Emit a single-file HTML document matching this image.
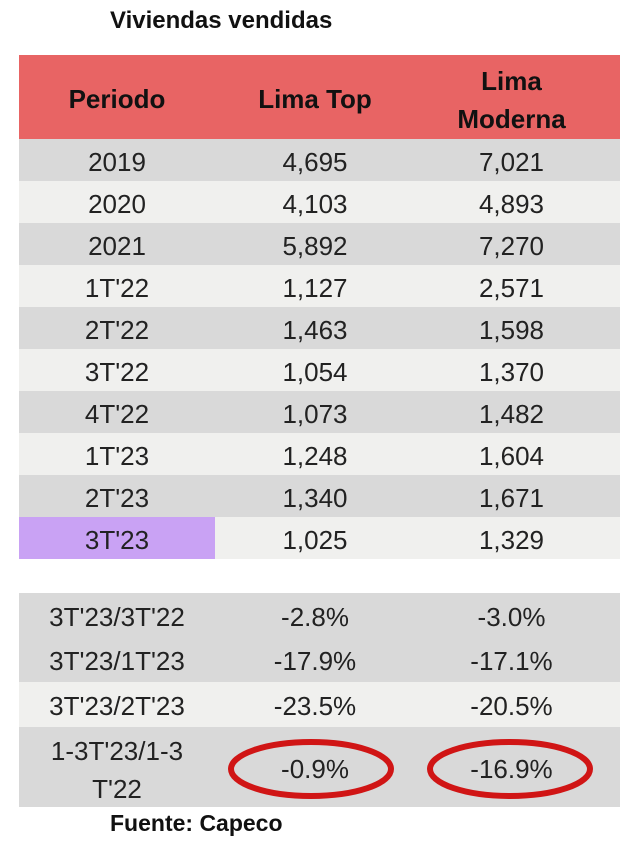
<!DOCTYPE html>
<html><head><meta charset="utf-8"><style>
body{margin:0;width:620px;height:841px;background:#fff;position:relative;overflow:hidden;font-family:"Liberation Sans",Arial,sans-serif;color:#222}
.r{position:absolute;left:19px;width:601px}
.c{position:absolute;top:0;height:100%;display:flex;align-items:center;justify-content:center;text-align:center;font-size:26px;padding-top:5px;box-sizing:border-box;line-height:1.2}
.c1{left:0;width:196px}.c2{left:196px;width:200px}.c3{left:396px;width:193px}
.g{background:#d9d9d9}.l{background:#f0f0ee}
</style></head><body>
<div style="position:absolute;left:110px;top:7px;font-size:24px;font-weight:bold;color:#111">Viviendas vendidas</div>
<div class="r" style="top:55px;height:84px;background:#e86464;font-weight:bold;color:#111">
 <div class="c c1" style="font-weight:bold">Periodo</div>
 <div class="c c2" style="font-weight:bold">Lima Top</div>
 <div class="c c3" style="font-weight:bold;line-height:38px">Lima<br>Moderna</div>
</div>
<div id="rows"></div>
<svg width="620" height="841" style="position:absolute;left:0;top:0;pointer-events:none">
 <ellipse cx="311" cy="769" rx="80" ry="27" fill="none" stroke="#d01515" stroke-width="6"/>
 <ellipse cx="510" cy="769" rx="80" ry="27" fill="none" stroke="#d01515" stroke-width="6"/>
</svg>
<div style="position:absolute;left:110px;top:810px;font-size:23px;font-weight:bold;color:#111">Fuente: Capeco</div>
<script>
const periods=["2019","2020","2021","1T'22","2T'22","3T'22","4T'22","1T'23","2T'23","3T'23"];
const limaTop=["4,695","4,103","5,892","1,127","1,463","1,054","1,073","1,248","1,340","1,025"];
const limaModerna=["7,021","4,893","7,270","2,571","1,598","1,370","1,482","1,604","1,671","1,329"];
const varLabels=["3T'23/3T'22","3T'23/1T'23","3T'23/2T'23","1-3T'23/1-3<br>T'22"];
const varTop=["-2.8%","-17.9%","-23.5%","-0.9%"];
const varModerna=["-3.0%","-17.1%","-20.5%","-16.9%"];
const host=document.getElementById('rows');
function row(top,h,cls,a,b,c,purple){
 const r=document.createElement('div');
 r.className='r '+cls;
 r.style.top=top+'px';r.style.height=h+'px';
 
 
 const lh=a.indexOf('<br>')>=0?'line-height:38px;':'';
 r.innerHTML='<div class="c c1" style="'+lh+(purple?'background:#c9a2f4;':'')+'">'+a+'</div><div class="c c2">'+b+'</div><div class="c c3">'+c+'</div>';
 host.appendChild(r);
}
periods.forEach((p,i)=>row(139+i*42,42,i%2?'l':'g',p,limaTop[i],limaModerna[i],i===9));
const vt=[593,637,682,727],vh=[44,45,45,80],vc=['g','g','l','g'];
varLabels.forEach((p,i)=>row(vt[i],vh[i],vc[i],p,varTop[i],varModerna[i],false));
</script>
</body></html>
